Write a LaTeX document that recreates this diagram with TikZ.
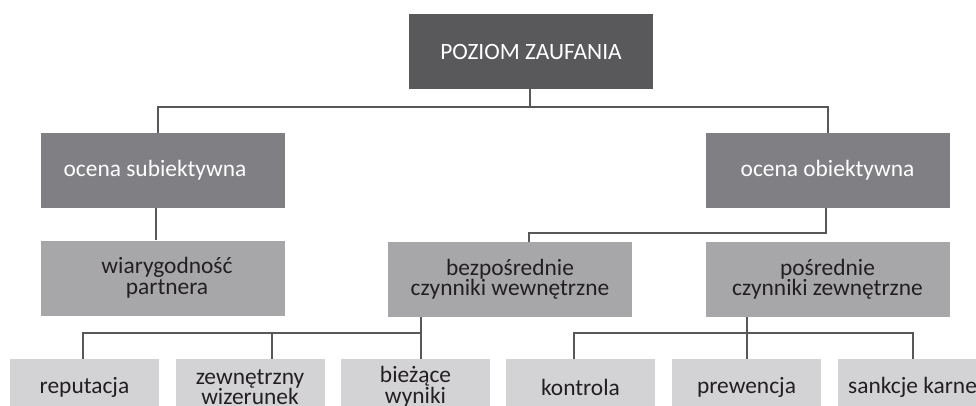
\documentclass[tikz,border=0pt]{standalone}
\usepackage{fontspec}
\setmainfont{Carlito}
\definecolor{cTop}{HTML}{59595B}
\definecolor{cL2}{HTML}{808084}
\definecolor{cL3}{HTML}{A7A7AA}
\definecolor{cL4}{HTML}{D3D3D5}
\definecolor{cLine}{HTML}{58585A}
\definecolor{cTxt}{HTML}{231F20}
\begin{document}
\begin{tikzpicture}[x=1pt,y=-1pt,
  box/.style={rectangle,inner sep=0pt,minimum width=244pt,minimum height=75pt,align=center,
    font=\fontsize{23.4}{20.5}\selectfont},
  topbox/.style={box,fill=cTop,text=white},
  lvltwo/.style={box,fill=cL2,text=white},
  lvlthree/.style={box,fill=cL3,text=cTxt},
  lvlfour/.style={box,fill=cL4,text=cTxt,minimum width=149pt,minimum height=56pt},
  conn/.style={draw=cLine,line width=1.8pt}]
\useasboundingbox (0,0) rectangle (976,405);
\clip (0,0) rectangle (976,405);
% nodes
\node[topbox] (top) at (531,51.5) {POZIOM ZAUFANIA};
\node[lvltwo] (l2a) at (163,170.5) {\hspace*{-16pt}ocena subiektywna};
\node[lvltwo] (l2b) at (827.5,170.5) {ocena obiektywna};
\node[lvlthree] (l3a) at (163,278) {\hspace*{8pt}wiarygodność\\\hspace*{8pt}partnera};
\node[lvlthree] (l3b) at (510,279.5) {bezpośrednie\\czynniki wewnętrzne};
\node[lvlthree] (l3c) at (827.5,279.5) {pośrednie\\czynniki zewnętrzne};
\node[lvlfour] (d1) at (84.5,387) {reputacja};
\node[lvlfour] (d2) at (250,387) {zewnętrzny\\wizerunek};
\node[lvlfour] (d3) at (415.5,387) {bieżące\\wyniki};
\node[lvlfour] (d4) at (580.5,387) {kontrola};
\node[lvlfour] (d5) at (746.5,387) {prewencja};
\node[lvlfour] (d6) at (912.5,387) {sankcje karne};
% junction coordinates
\coordinate (t1) at (530,107);
\coordinate (tL) at (158,107);
\coordinate (tR) at (828,107);
\coordinate (s1) at (156,220);
\coordinate (m1) at (826,233);
\coordinate (m2) at (529,233);
\coordinate (k1) at (83,333);
\coordinate (k2) at (272,333);
\coordinate (k3) at (421,333);
\coordinate (k4) at (574,333);
\coordinate (k5) at (747,333);
\coordinate (k6) at (913,333);
% connectors
\draw[conn] (t1 |- top.south) -- (t1);
\draw[conn] (tL |- l2a.north) -- (tL) -- (tR) -- (tR |- l2b.north);
\draw[conn] (s1 |- l2a.south) -- (s1 |- l3a.north);
\draw[conn] (m1 |- l2b.south) -- (m1) -- (m2) -- (m2 |- l3b.north);
\draw[conn] (k3 |- l3b.south) -- (k3 |- d3.north);
\draw[conn] (k1 |- d1.north) -- (k1) -- (k3);
\draw[conn] (k2) -- (k2 |- d2.north);
\draw[conn] (k5 |- l3c.south) -- (k5 |- d5.north);
\draw[conn] (k4 |- d4.north) -- (k4) -- (k6) -- (k6 |- d6.north);
\end{tikzpicture}
\end{document}
